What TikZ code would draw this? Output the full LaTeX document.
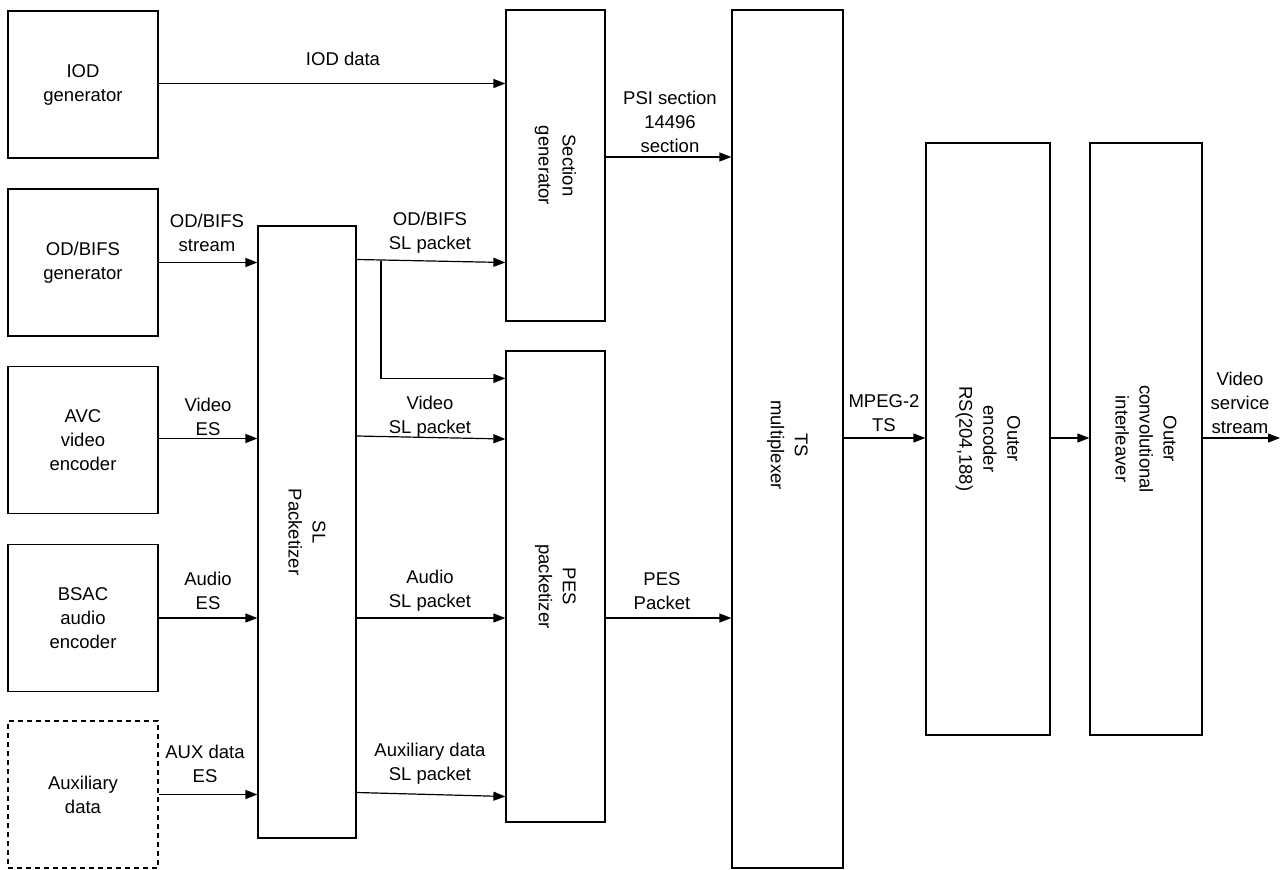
\documentclass[tikz,border=0pt]{standalone}
\usepackage{fontspec}
\setmainfont{Liberation Sans}
\usetikzlibrary{arrows.meta}
\tikzset{
  blk/.style={draw,line width=1.2pt,minimum width=150pt,minimum height=147pt,align=center,inner sep=0pt},
  tall/.style={draw,line width=1.2pt,inner sep=0pt},
  vtxt/.style={rotate=-90,align=center},
  lbl/.style={align=center,inner sep=0pt},
  arr/.style={line width=1.2pt,-{Triangle[length=12pt,width=9pt]}},
}
\begin{document}
\begin{tikzpicture}[x=1pt,y=-1pt,font=\fontsize{18.5}{24}\selectfont]
  \useasboundingbox (0,0) rectangle (1280,870);
  % sources
  \node[blk] (iod) at (83,84.5) {IOD\\generator};
  \node[blk] (odg) at (83,262.5) {OD/BIFS\\generator};
  \node[blk] (avc) at (83,440) {AVC\\video\\encoder};
  \node[blk] (bsac) at (83,618) {BSAC\\audio\\encoder};
  \node[blk,dash pattern=on 5pt off 4pt] (aux) at (83,794.5) {Auxiliary\\data};
  % processing blocks
  \node[tall,minimum width=98pt,minimum height=612pt] (sl) at (307,532) {};
  \node[tall,minimum width=99pt,minimum height=311pt] (sec) at (555.5,165.5) {};
  \node[tall,minimum width=99pt,minimum height=471pt] (pes) at (555.5,586.5) {};
  \node[tall,minimum width=111pt,minimum height=858pt] (ts) at (787.5,439) {};
  \node[tall,minimum width=124pt,minimum height=592pt] (oenc) at (988,439) {};
  \node[tall,minimum width=112pt,minimum height=592pt] (oint) at (1146,439) {};
  \node[vtxt] (slt) at (sl.center) {SL\\Packetizer};
  \node[vtxt] (sect) at (sec.center) {Section\\generator};
  \node[vtxt] (pest) at (pes.center) {PES\\packetizer};
  \node[vtxt] (tst) at ([yshift=-6pt]ts.center) {TS\\multiplexer};
  \node[vtxt] (oenct) at (oenc.center) {Outer\\encoder\\RS(204,188)};
  \node[vtxt] (ointt) at (oint.center) {Outer\\convolutional\\interleaver};
  % connectors
  \coordinate (br) at (381,260.5);
  \coordinate (psi) at (605,157);
  \coordinate (out) at (1280,438);
  \draw[arr] ([yshift=1pt]iod.east) -- ([yshift=1pt]sec.west |- iod.east);
  \draw[arr] (odg.east) -- (sl.west |- odg.east);
  \draw[arr] ([yshift=3pt]sl.east |- odg.east) -- (sec.west |- odg.east);
  \draw[arr] (br) |- ([yshift=-28pt]pes.north west);
  \draw[arr] ([yshift=1.5pt]avc.east) -- ([yshift=1.5pt]sl.west |- avc.east);
  \draw[arr] ([yshift=4pt]sl.east |- avc.east) -- ([yshift=1pt]pes.west |- avc.east);
  \draw[arr] (bsac.east) -- (sl.west |- bsac.east);
  \draw[arr] (sl.east |- bsac.east) -- (pes.west |- bsac.east);
  \draw[arr] (aux.east) -- (sl.west |- aux.east);
  \draw[arr] ([yshift=2pt]sl.east |- aux.east) -- ([yshift=-2pt]pes.west |- aux.east);
  \draw[arr] (psi) -- (ts.west |- psi);
  \draw[arr] (pes.east |- bsac.east) -- (ts.west |- bsac.east);
  \draw[arr] (ts.east |- out) -- (oenc.west |- out);
  \draw[arr] (oenc.east |- out) -- (oint.west |- out);
  \draw[arr] (oint.east |- out) -- (out);
  % labels
  \node[lbl] (l1) at (343,59) {IOD data};
  \node[lbl] (l2) at (207,233) {OD/BIFS\\stream};
  \node[lbl] (l3) at (430,233) {OD/BIFS\\SL packet};
  \node[lbl] (l4) at (208,417) {Video\\ES};
  \node[lbl] (l5) at (430,417) {Video\\SL packet};
  \node[lbl] (l6) at (208,591) {Audio\\ES};
  \node[lbl] (l7) at (430,591) {Audio\\SL packet};
  \node[lbl] (l8) at (205,764) {AUX data\\ES};
  \node[lbl] (l9) at (430,764) {Auxiliary data\\SL packet};
  \node[lbl] (l10) at (670,122) {PSI section\\14496\\section};
  \node[lbl] (l11) at (662,591) {PES\\Packet};
  \node[lbl] (l12) at (884,413) {MPEG-2\\TS};
  \node[lbl] (l13) at (1240,403) {Video\\service\\stream};
\end{tikzpicture}
\end{document}
